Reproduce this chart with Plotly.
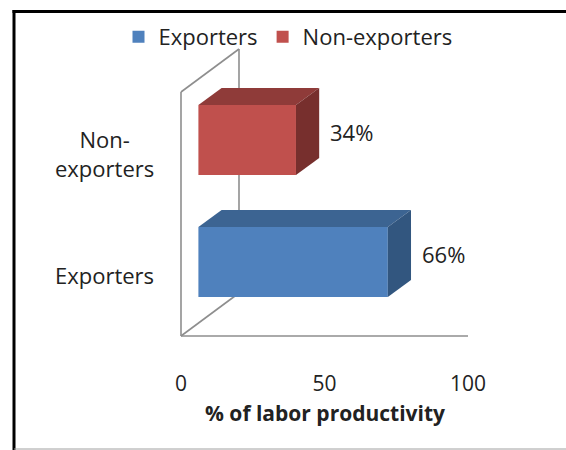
import plotly.graph_objects as go

# ---- data -------------------------------------------------------------
categories = ["Exporters", "Non-exporters"]
category_labels = ["Exporters", "Non-<br>exporters"]
shares = [66, 34]
x_ticks = [0, 50, 100]

front_colors = ["#4F81BD", "#C0504D"]
top_colors = ["#3C6492", "#8F3B39"]
side_colors = ["#32567F", "#772F2D"]

# ---- geometry of the pseudo-3D box ------------------------------------
W, H = 566, 450
ML, MB = 160, 84              # plot-area margins (px)
PX_PER_X = 2.87               # px per percentage point
PX_PER_CAT = 122              # px per category band
FLOOR_PX = 30                 # floor front edge above plot-area bottom
ORIGIN_PX = 181               # screen x of value 0

plot_w = W - ML
plot_h = H - MB
x_min = -(ORIGIN_PX - ML) / PX_PER_X
x_max = x_min + plot_w / PX_PER_X
y_min = -FLOOR_PX / PX_PER_CAT
y_max = y_min + plot_h / PX_PER_CAT

DEPTH_X = 58 / PX_PER_X       # oblique depth offset, in x units
DEPTH_Y = 43 / PX_PER_CAT     # oblique depth offset, in category units
FRONT = 0.3                   # bars occupy depth 0.3 .. 0.7
THICK = 0.4
BAR_W = 0.574


def px_to_paper_x(px):
    return (px - ML) / plot_w


def px_to_paper_y(py):
    return (plot_h - py) / plot_h


FONT = "Open Sans"
TXT = "#222222"
WALL = "#8E8E8E"

fig = go.Figure()

base = FRONT * DEPTH_X
dX, dY = THICK * DEPTH_X, THICK * DEPTH_Y
for i, (name, v) in enumerate(zip(categories, shares)):
    pos = i + 0.5
    yc = pos + FRONT * DEPTH_Y
    yb, yt = yc - BAR_W / 2, yc + BAR_W / 2
    # front face
    fig.add_trace(go.Bar(
        orientation="h", y=[yc], x=[v], base=base, width=BAR_W,
        name=name, marker=dict(color=front_colors[i], line=dict(width=0)),
        hoverinfo="skip",
    ))
    # top face
    fig.add_trace(go.Scatter(
        x=[base, base + v, base + v + dX, base + dX, base],
        y=[yt, yt, yt + dY, yt + dY, yt],
        fill="toself", fillcolor=top_colors[i], mode="lines",
        line=dict(width=0), showlegend=False, hoverinfo="skip",
    ))
    # side face
    fig.add_trace(go.Scatter(
        x=[base + v, base + v + dX, base + v + dX, base + v, base + v],
        y=[yb, yb + dY, yt + dY, yt, yb],
        fill="toself", fillcolor=side_colors[i], mode="lines",
        line=dict(width=0), showlegend=False, hoverinfo="skip",
    ))
    # value label
    fig.add_annotation(
        x=base + v + dX, y=yc + dY / 2, text=f"{v}%", showarrow=False,
        xanchor="left", yanchor="middle", xshift=9,
        font=dict(family=FONT, size=22, color=TXT),
    )
    # category label
    fig.add_annotation(
        x=0, y=pos, text=category_labels[i], showarrow=False,
        xanchor="right", yanchor="middle", xshift=-25, align="center",
        font=dict(family=FONT, size=22, color=TXT),
    )

# walls: left wall outline and floor front edge, behind the bars
top_y = len(categories)
wall = [
    (0, 0, 0, top_y),
    (0, top_y, DEPTH_X, top_y + DEPTH_Y),
    (DEPTH_X, top_y + DEPTH_Y, DEPTH_X, DEPTH_Y),
    (0, 0, DEPTH_X, DEPTH_Y),
    (0, 0, x_ticks[-1], 0),
]
for x0, y0, x1, y1 in wall:
    fig.add_shape(type="line", xref="x", yref="y", x0=x0, y0=y0, x1=x1, y1=y1,
                  line=dict(color=WALL, width=1.6), layer="below")

# outer chart frame
fig.add_shape(type="line", xref="paper", yref="paper",
              x0=px_to_paper_x(12.5), x1=px_to_paper_x(W),
              y0=px_to_paper_y(11.5), y1=px_to_paper_y(11.5),
              line=dict(color="#000000", width=3))
fig.add_shape(type="line", xref="paper", yref="paper",
              x0=px_to_paper_x(14), x1=px_to_paper_x(14),
              y0=px_to_paper_y(10), y1=px_to_paper_y(H),
              line=dict(color="#000000", width=3))
fig.add_shape(type="line", xref="paper", yref="paper",
              x0=px_to_paper_x(14), x1=px_to_paper_x(W),
              y0=px_to_paper_y(449), y1=px_to_paper_y(449),
              line=dict(color="#A0A0A0", width=1))

# axis title, centred on the value scale
fig.add_annotation(
    x=(x_ticks[0] + x_ticks[-1]) / 2, xref="x",
    y=px_to_paper_y(413), yref="paper", yanchor="middle",
    text="<b>% of labor productivity</b>", showarrow=False,
    font=dict(family=FONT, size=21, color=TXT),
)

fig.update_layout(
    width=W, height=H,
    margin=dict(l=ML, r=0, t=0, b=MB),
    paper_bgcolor="white", plot_bgcolor="white",
    barmode="overlay",
    showlegend=True,
    legend=dict(
        orientation="h", x=px_to_paper_x(288), xanchor="center",
        y=px_to_paper_y(37), yanchor="middle",
        font=dict(family=FONT, size=22, color=TXT),
        bgcolor="rgba(0,0,0,0)", itemclick=False, itemdoubleclick=False,
    ),
    xaxis=dict(
        range=[x_min, x_max], tickvals=x_ticks, ticks="",
        showgrid=False, zeroline=False, showline=False,
        tickfont=dict(family=FONT, size=21, color=TXT),
        ticklabelstandoff=3, fixedrange=True,
    ),
    yaxis=dict(
        range=[y_min, y_max], showticklabels=False, ticks="",
        showgrid=False, zeroline=False, showline=False, fixedrange=True,
    ),
)

fig.write_html("out.html")
